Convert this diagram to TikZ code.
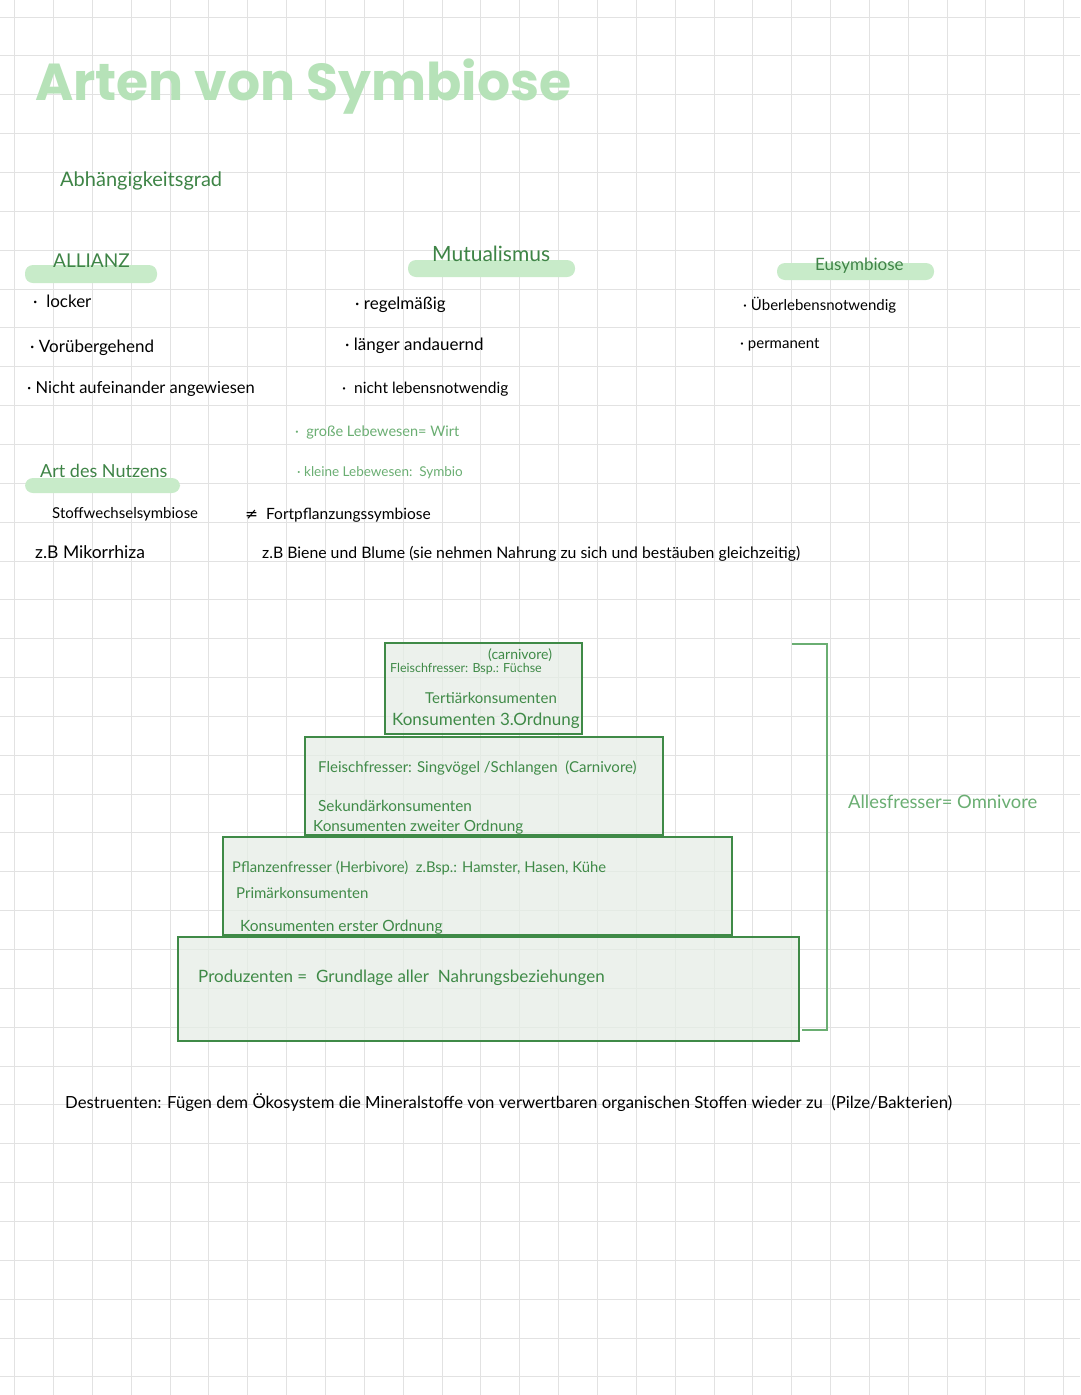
\documentclass[tikz,border=0pt]{standalone}
\usepackage{fontspec}
\setmainfont{Lato}
\newfontfamily\titlefont{Poppins}
\newfontfamily\symfont{DejaVu Sans}
\usepackage{tikz}
\definecolor{gridgray}{HTML}{E2E2E2}
\definecolor{headgreen}{HTML}{3E8446}
\definecolor{markgreen}{HTML}{C8EBC9}
\definecolor{softgreen}{HTML}{6AAE72}
\definecolor{boxgreen}{HTML}{3F8A47}
\definecolor{boxfill}{HTML}{E6EDE6}
\definecolor{titlegreen}{HTML}{B6E2B8}
\newcommand{\handsize}[1]{\fontsize{#1}{#1}\selectfont}
\tikzset{
	gridline/.style={draw=gridgray,line width=1},
	headstyle/.style={anchor=base west,inner sep=0,text=headgreen,font=\handsize{19}},
	notestyle/.style={anchor=base west,inner sep=0,text=black,font=\handsize{17}},
	softstyle/.style={anchor=base west,inner sep=0,text=softgreen,font=\handsize{14.5}},
	markstyle/.style={fill=markgreen,rounded corners=8},
	tierstyle/.style={draw=boxgreen,line width=2.5,fill=boxfill,fill opacity=0.75,draw opacity=1},
	tiertext/.style={anchor=base west,inner sep=0,text=boxgreen,font=\handsize{15.3}}
}
\begin{document}
\begin{tikzpicture}[x=1pt,y=-1pt]
	\useasboundingbox (0,0) rectangle (1080,1395);
	\fill[white] (0,0) rectangle (1080,1395);
	% grid of the page
	\foreach \i in {0,...,27}
		\draw[gridline] ({14.7+38.85*\i},0) -- ++(0,1395);
	\foreach \j in {0,...,35}
		\draw[gridline] (0,{17.1+38.85*\j}) -- ++(1080,0);
	% title
	\node[anchor=base west,inner sep=0,text=titlegreen,font={\titlefont\bfseries\handsize{52}}] (title) at (35,100) {Arten von Symbiose};
	\node[headstyle,font=\handsize{20}] (grad) at (60,186) {Abhängigkeitsgrad};
	% highlight bars
	\fill[markstyle] (25,265) rectangle (157,283);
	\fill[markstyle] (408,260) rectangle (575,277);
	\fill[markstyle] (777,263) rectangle (934,280);
	\fill[markstyle] (25,478) rectangle (180,493);
	% column heads
	\node[headstyle] (allianz) at (53,267) {ALLIANZ};
	\node[headstyle,font=\handsize{21}] (mutual) at (432,261) {Mutualismus};
	\node[headstyle,font=\handsize{17}] (eusym) at (815,270) {Eusymbiose};
	% Allianz
	\node[notestyle] (a1) at (33,307) {·\ \ locker};
	\node[notestyle] (a2) at (30,352) {·\ Vorübergehend};
	\node[notestyle,font=\handsize{16.5}] (a3) at (27,393) {·\ Nicht aufeinander angewiesen};
	% Mutualismus
	\node[notestyle] (m1) at (355,309) {·\ regelmäßig};
	\node[notestyle] (m2) at (345,350) {·\ länger andauernd};
	\node[notestyle,font=\handsize{15.5}] (m3) at (342,393) {·\ \ nicht lebensnotwendig};
	% Eusymbiose
	\node[notestyle,font=\handsize{15}] (e1) at (743,310) {·\ Überlebensnotwendig};
	\node[notestyle,font=\handsize{15}] (e2) at (740,348) {·\ permanent};
	\node[softstyle] (wirt) at (295,436) {·\ \ große Lebewesen= Wirt};
	\node[softstyle,font=\handsize{13.5}] (symbio) at (297,476) {·\ kleine Lebewesen:\ \ Symbio};
	% Art des Nutzens
	\node[headstyle,font=\handsize{18}] (nutzen) at (40,477) {Art des Nutzens};
	\node[notestyle,font=\handsize{15}] (stoff) at (52,518) {Stoffwechselsymbiose};
	\node[notestyle,font=\handsize{15.5}] (fort) at (245,519) {{\symfont ≠}\ \ Fortpflanzungssymbiose};
	\node[notestyle,font=\handsize{17.5}] (mikor) at (35,558) {z.B Mikorrhiza};
	\node[notestyle,font=\handsize{15.8}] (biene) at (262,558) {z.B Biene und Blume (sie nehmen Nahrung zu sich und bestäuben gleichzeitig)};
	% food pyramid
	\draw[tierstyle] (178,937) rectangle (799,1041);
	\draw[tierstyle] (223,837) rectangle (732,935);
	\draw[tierstyle] (305,737) rectangle (663,835);
	\draw[tierstyle] (385,643) rectangle (582,734);
	\node[tiertext,font=\handsize{14}] (t4a) at (488,659) {(carnivore)};
	\node[tiertext,font=\handsize{12.5}] (t4b) at (390,672) {Fleischfresser: Bsp.: Füchse};
	\node[tiertext,font=\handsize{15}] (t4c) at (425,703) {Tertiärkonsumenten};
	\node[tiertext,font=\handsize{17}] (t4d) at (392,725) {Konsumenten 3.Ordnung};
	\node[tiertext,font=\handsize{15}] (t3a) at (318,772) {Fleischfresser: Singvögel /Schlangen\ \ (Carnivore)};
	\node[tiertext] (t3b) at (318,811) {Sekundärkonsumenten};
	\node[tiertext] (t3c) at (313,831) {Konsumenten zweiter Ordnung};
	\node[tiertext,font=\handsize{14.8}] (t2a) at (232,872) {Pflanzenfresser (Herbivore)\ \ z.Bsp.: Hamster, Hasen, Kühe};
	\node[tiertext,font=\handsize{15}] (t2b) at (236,898) {Primärkonsumenten};
	\node[tiertext,font=\handsize{15.5}] (t2c) at (240,931) {Konsumenten erster Ordnung};
	\node[tiertext,font=\handsize{17}] (t1a) at (198,982) {Produzenten\ =\ \ Grundlage\ aller\ \ Nahrungsbeziehungen};
	% bracket for omnivores
	\coordinate (brtop) at (792,644);
	\coordinate (brbot) at (802,1030);
	\draw[softgreen,line width=2] (brtop) -- (827,644) -- (827,1030) -- (brbot);
	\node[softstyle,font=\handsize{18.4}] (omni) at (848,808) {Allesfresser= Omnivore};
	% decomposers
	\node[notestyle,font=\handsize{16.7}] (destr) at (65,1108) {Destruenten: Fügen dem Ökosystem die Mineralstoffe von verwertbaren organischen Stoffen wieder zu\ \ (Pilze/Bakterien)};
\end{tikzpicture}
\end{document}
